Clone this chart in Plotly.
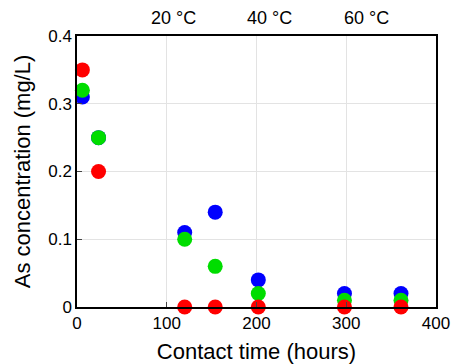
import plotly.graph_objects as go

hours = [6, 24, 120, 154, 202, 298, 361]
blue_vals = [0.31, 0.25, 0.11, 0.14, 0.04, 0.02, 0.02]
green_vals = [0.32, 0.25, 0.10, 0.06, 0.02, 0.01, 0.01]
red_vals = [0.35, 0.20, 0.0, 0.0, 0.0, 0.0, 0.0]
temp_labels = ["20 °C", "40 °C", "60 °C"]
temp_pos = [107, 214, 322]

fig = go.Figure()
for vals, col in [(blue_vals, "#0000ff"), (green_vals, "#00dd00"), (red_vals, "#ff0000")]:
    fig.add_trace(go.Scatter(x=hours, y=vals, mode="markers",
                             marker=dict(color=col, size=15, line=dict(width=0)),
                             cliponaxis=False, showlegend=False))

for t, p in zip(temp_labels, temp_pos):
    fig.add_annotation(x=p, y=1, xref="x", yref="paper", yanchor="bottom", yshift=6,
                       text=t, showarrow=False, font=dict(size=18, color="black"))

fig.update_layout(
    width=455, height=364,
    margin=dict(l=77, r=19, t=36, b=57),
    plot_bgcolor="white", paper_bgcolor="white",
    font=dict(family="Liberation Sans, Arial, sans-serif", size=18, color="black"),
)
fig.update_xaxes(range=[0, 400], tickvals=[0, 100, 200, 300, 400], ticks="inside", ticklen=5,
                 showline=True, linecolor="black", linewidth=1.5, mirror=True,
                 showgrid=True, gridcolor="#e3e3e3", gridwidth=1, zeroline=False,
                 automargin=False, tickfont=dict(size=17),
                 title=dict(text="Contact time (hours)", standoff=11))
fig.update_yaxes(range=[0, 0.4], tickvals=[0, 0.1, 0.2, 0.3, 0.4], ticktext=["0", "0.1", "0.2", "0.3", "0.4"],
                 ticks="inside", ticklen=5,
                 showline=True, linecolor="black", linewidth=1.5, mirror=True,
                 showgrid=True, gridcolor="#e3e3e3", gridwidth=1, zeroline=False,
                 automargin=False, tickfont=dict(size=17),
                 title=dict(text="As concentration (mg/L)", standoff=12))

fig.write_html("out.html", config={"displayModeBar": False},
               post_script="document.body.style.margin='0';document.body.style.overflow='hidden';")
